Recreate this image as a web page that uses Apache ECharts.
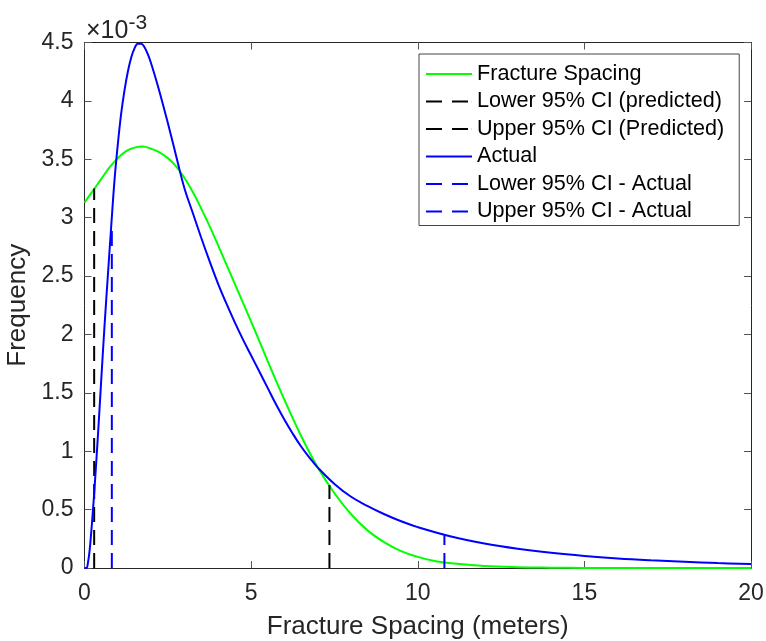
<!DOCTYPE html>
<html>
<head>
<meta charset="utf-8">
<script src="https://cdn.jsdelivr.net/npm/echarts@6/dist/echarts.min.js"></script>
<style>html,body{margin:0;padding:0;background:#fff}#c{width:766px;height:641px}</style>
</head>
<body>
<div id="c"></div>
<script>
// Values in units of 1e-3
var greenX = [0, 0.25, 0.5, 0.75, 1.0, 1.25, 1.5, 1.75, 2.0, 2.25, 2.5, 2.75, 3.0, 3.25, 3.5, 3.75, 4.0, 4.5, 5.0, 5.5, 6.0, 6.5, 7.0, 7.5, 8.0, 8.5, 9.0, 9.5, 10, 10.5, 11, 12, 13, 14, 15, 17, 20];
var greenY = [3.13, 3.23, 3.33, 3.43, 3.51, 3.57, 3.6, 3.61, 3.59, 3.56, 3.51, 3.44, 3.34, 3.22, 3.08, 2.93, 2.77, 2.44, 2.11, 1.77, 1.44, 1.13, 0.86, 0.64, 0.46, 0.32, 0.22, 0.145, 0.095, 0.06, 0.04, 0.017, 0.007, 0.003, 0.001, 0.0005, 0.0002];
var blueX = [0, 0.06, 0.1, 0.15, 0.2, 0.25, 0.3, 0.4, 0.5, 0.6, 0.7, 0.8, 0.9, 1.0, 1.1, 1.2, 1.3, 1.4, 1.5, 1.6, 1.7, 1.8, 1.9, 2.0, 2.2, 2.4, 2.6, 2.8, 3.0, 3.25, 3.5, 3.75, 4.0, 4.25, 4.5, 4.75, 5.0, 5.25, 5.5, 5.75, 6.0, 6.25, 6.5, 6.75, 7.0, 7.5, 8.0, 8.5, 9.0, 9.5, 10, 11, 12, 13, 14, 15, 16, 17, 18, 19, 20];
var blueY = [0, 0, 0.04, 0.14, 0.3, 0.48, 0.68, 1.12, 1.6, 2.07, 2.5, 2.92, 3.32, 3.63, 3.89, 4.09, 4.25, 4.37, 4.45, 4.49, 4.49, 4.46, 4.4, 4.32, 4.13, 3.92, 3.7, 3.47, 3.25, 3.04, 2.83, 2.63, 2.44, 2.27, 2.11, 1.96, 1.82, 1.68, 1.54, 1.40, 1.27, 1.15, 1.04, 0.945, 0.86, 0.72, 0.61, 0.53, 0.46, 0.4, 0.35, 0.27, 0.21, 0.165, 0.13, 0.103, 0.082, 0.066, 0.053, 0.042, 0.034];
var ciNames = ['Lower 95% CI (predicted)', 'Upper 95% CI (Predicted)', 'Lower 95% CI - Actual', 'Upper 95% CI - Actual'];
var ciX = [0.29, 7.35, 0.82, 10.8];
var ciTop = [3.25, 0.71, 2.92, 0.28];
var xTicks = [0, 5, 10, 15, 20];
var yTicks = [0, 0.5, 1, 1.5, 2, 2.5, 3, 3.5, 4, 4.5];

function pairs(xs, ys) { return xs.map(function (x, i) { return [x, ys[i]]; }); }
function vline(i) { return [[ciX[i], 0], [ciX[i], ciTop[i]]]; }

var FONT = "'Liberation Sans', Arial, Helvetica, sans-serif";
var TXT = '#262626';
var AX = '#262626';
var dash = [15, 8];
var SOLID_ICON = 'path://M0,0h46v2h-46z';
var DASH_ICON = 'path://M0,0h16v2h-16z M26,0h16v2h-16z M45.9,0h0.1v2h-0.1z';

var chart = echarts.init(document.getElementById('c'));
var axisCommon = {
  axisLine: { show: true, onZero: false, lineStyle: { color: AX, width: 1 } },
  axisTick: { show: true, inside: true, length: 7, lineStyle: { color: '#555', width: 1 } },
  splitLine: { show: false }
};
chart.setOption({
  animation: false,
  backgroundColor: '#fff',
  textStyle: { fontFamily: FONT },
  grid: { left: 84.5, right: 15, top: 42.5, bottom: 73, containLabel: false, outerBoundsMode: 'none' },
  xAxis: [
    Object.assign({}, axisCommon, {
      type: 'value', min: xTicks[0], max: xTicks[xTicks.length - 1], interval: 5, position: 'bottom',
      name: 'Fracture Spacing (meters)', nameLocation: 'middle', nameGap: 46,
      nameTextStyle: { fontSize: 26, color: TXT, fontFamily: FONT },
      axisLabel: { fontSize: 23, color: TXT, margin: 14, fontFamily: FONT }
    }),
    Object.assign({}, axisCommon, {
      type: 'value', min: xTicks[0], max: xTicks[xTicks.length - 1], interval: 5, position: 'top',
      axisLabel: { show: false }
    })
  ],
  yAxis: [
    Object.assign({}, axisCommon, {
      type: 'value', min: yTicks[0], max: yTicks[yTicks.length - 1], interval: 0.5, position: 'left',
      name: 'Frequency', nameLocation: 'middle', nameGap: 48,
      nameTextStyle: { fontSize: 26, color: TXT, fontFamily: FONT },
      axisLabel: { fontSize: 23, color: TXT, margin: 11, fontFamily: FONT }
    }),
    Object.assign({}, axisCommon, {
      type: 'value', min: yTicks[0], max: yTicks[yTicks.length - 1], interval: 0.5, position: 'right',
      axisLabel: { show: false }
    })
  ],
  legend: {
    orient: 'vertical', left: 419, top: 54,
    padding: [9, 15, 3, 7],
    itemWidth: 46, itemHeight: 2, itemGap: 5.5,
    symbolKeepAspect: false,
    backgroundColor: '#fff', borderColor: '#444', borderWidth: 1, borderRadius: 0,
    textStyle: { fontSize: 21.6, color: '#000', fontFamily: FONT },
    data: [
      { name: 'Fracture Spacing', icon: SOLID_ICON, itemStyle: { color: '#00ff00' } },
      { name: ciNames[0], icon: DASH_ICON, itemStyle: { color: '#000' } },
      { name: ciNames[1], icon: DASH_ICON, itemStyle: { color: '#000' } },
      { name: 'Actual', icon: SOLID_ICON, itemStyle: { color: '#0000ff' } },
      { name: ciNames[2], icon: DASH_ICON, itemStyle: { color: '#0000ff' } },
      { name: ciNames[3], icon: DASH_ICON, itemStyle: { color: '#0000ff' } }
    ]
  },
  graphic: [{
    type: 'text', left: 86, top: 13,
    style: {
      text: '{a|×10}{b|-3}',
      rich: {
        a: { fontSize: 25, fill: TXT, fontFamily: FONT, verticalAlign: 'bottom' },
        b: { fontSize: 21, fill: TXT, fontFamily: FONT, verticalAlign: 'top', padding: [0, 0, 10, 0] }
      }
    }
  }],
  series: [
    { name: 'Fracture Spacing', type: 'line', data: pairs(greenX, greenY), smooth: 0.4, showSymbol: false, symbol: 'none',
      lineStyle: { color: '#00ff00', width: 2 }, itemStyle: { color: '#00ff00' } },
    { name: ciNames[0], type: 'line', data: vline(0), showSymbol: false, symbol: 'none',
      lineStyle: { color: '#000', width: 2, type: dash }, itemStyle: { color: '#000' } },
    { name: ciNames[1], type: 'line', data: vline(1), showSymbol: false, symbol: 'none',
      lineStyle: { color: '#000', width: 2, type: dash }, itemStyle: { color: '#000' } },
    { name: 'Actual', type: 'line', data: pairs(blueX, blueY), smooth: 0.4, showSymbol: false, symbol: 'none',
      lineStyle: { color: '#0000ff', width: 2 }, itemStyle: { color: '#0000ff' } },
    { name: ciNames[2], type: 'line', data: vline(2), showSymbol: false, symbol: 'none',
      lineStyle: { color: '#0000ff', width: 2, type: dash }, itemStyle: { color: '#0000ff' } },
    { name: ciNames[3], type: 'line', data: vline(3), showSymbol: false, symbol: 'none',
      lineStyle: { color: '#0000ff', width: 2, type: dash }, itemStyle: { color: '#0000ff' } }
  ]
});
</script>
</body>
</html>
